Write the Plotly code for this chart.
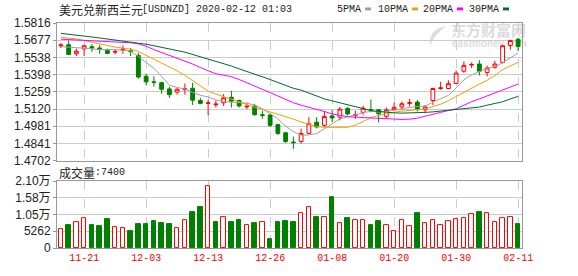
import plotly.graph_objects as go

# ---------------- data ----------------
dates = ["11-18","11-19","11-20","11-21","11-22","11-25","11-26","11-27","11-28","11-29",
         "12-02","12-03","12-04","12-05","12-06","12-09","12-10","12-11","12-12","12-13",
         "12-16","12-17","12-18","12-19","12-20","12-23","12-24","12-26","12-27","12-30",
         "12-31","01-02","01-03","01-06","01-07","01-08","01-09","01-10","01-13","01-14",
         "01-15","01-16","01-17","01-20","01-21","01-22","01-23","01-24","01-27","01-28",
         "01-29","01-30","01-31","02-03","02-04","02-05","02-06","02-07","02-10","02-11"]
tick_dates = ["11-21","12-03","12-13","12-26","01-08","01-20","01-30","02-11"]

opens = [1.5632,1.5640,1.5567,1.5606,1.5624,1.5614,1.5596,1.5580,1.5598,1.5591,
         1.5554,1.5385,1.5340,1.5333,1.5283,1.5257,1.5278,1.5288,1.5189,1.5166,
         1.5155,1.5171,1.5215,1.5189,1.5137,1.5145,1.5074,1.5072,1.4994,1.4928,
         1.4853,1.4858,1.4923,1.5014,1.4988,1.5064,1.5054,1.5124,1.5069,1.5093,
         1.5116,1.5114,1.5061,1.5114,1.5137,1.5166,1.5176,1.5114,1.5189,1.5286,
         1.5286,1.5327,1.5426,1.5476,1.5484,1.5416,1.5458,1.5497,1.5635,1.5684]
closes = [1.5638,1.5562,1.5588,1.5632,1.5614,1.5604,1.5570,1.5585,1.5604,1.5585,
          1.5379,1.5340,1.5335,1.5280,1.5236,1.5280,1.5283,1.5192,1.5166,1.5170,
          1.5160,1.5210,1.5184,1.5145,1.5142,1.5074,1.5069,1.4988,1.4923,1.4858,
          1.4848,1.4923,1.5001,1.4975,1.5059,1.5048,1.5119,1.5080,1.5074,1.5127,
          1.5111,1.5081,1.5114,1.5134,1.5163,1.5171,1.5119,1.5137,1.5286,1.5291,
          1.5325,1.5411,1.5473,1.5481,1.5426,1.5452,1.5484,1.5632,1.5674,1.5627]
highs = [1.5653,1.5674,1.5609,1.5640,1.5645,1.5640,1.5609,1.5598,1.5635,1.5614,
         1.5575,1.5406,1.5385,1.5340,1.5301,1.5288,1.5327,1.5333,1.5210,1.5192,
         1.5189,1.5241,1.5267,1.5197,1.5171,1.5163,1.5106,1.5080,1.5001,1.4936,
         1.4897,1.4962,1.5054,1.5054,1.5106,1.5114,1.5137,1.5137,1.5106,1.5145,
         1.5197,1.5119,1.5132,1.5171,1.5181,1.5202,1.5192,1.5150,1.5293,1.5340,
         1.5353,1.5432,1.5505,1.5497,1.5515,1.5471,1.5510,1.5640,1.5679,1.5697]
lows = [1.5614,1.5557,1.5549,1.5549,1.5583,1.5567,1.5567,1.5562,1.5567,1.5549,
        1.5366,1.5314,1.5301,1.5244,1.5210,1.5236,1.5236,1.5153,1.5158,1.5070,
        1.5132,1.5145,1.5132,1.5132,1.5119,1.5067,1.5041,1.4975,1.4910,1.4845,
        1.4798,1.4840,1.4918,1.4962,1.4975,1.5014,1.5028,1.5067,1.5041,1.5074,
        1.5093,1.5011,1.5041,1.5108,1.5114,1.5140,1.5100,1.5087,1.5153,1.5275,
        1.5280,1.5322,1.5413,1.5452,1.5392,1.5385,1.5445,1.5489,1.5601,1.5588]

ma5 = [1.5625,1.5622,1.5617,1.5612,1.5607,1.5600,1.5601,1.5601,1.5595,1.5590,
       1.5545,1.5499,1.5449,1.5384,1.5314,1.5294,1.5283,1.5254,1.5231,1.5218,
       1.5194,1.5180,1.5178,1.5174,1.5168,1.5151,1.5123,1.5084,1.5040,1.4983,
       1.4937,1.4908,1.4911,1.4921,1.4961,1.5001,1.5041,1.5056,1.5076,1.5090,
       1.5102,1.5095,1.5101,1.5113,1.5121,1.5133,1.5140,1.5145,1.5175,1.5201,
       1.5231,1.5290,1.5357,1.5396,1.5423,1.5449,1.5463,1.5495,1.5534,1.5574]
ma10 = [1.5700,1.5696,1.5687,1.5674,1.5660,1.5648,1.5636,1.5621,1.5613,1.5605,
        1.5585,1.5554,1.5523,1.5492,1.5460,1.5429,1.5392,1.5351,1.5304,1.5265,
        1.5241,1.5222,1.5198,1.5179,1.5155,1.5136,1.5116,1.5097,1.5073,1.5059,
        1.5038,1.5015,1.4995,1.4979,1.4972,1.4970,1.4970,1.4972,1.4990,1.5020,
        1.5049,1.5068,1.5082,1.5094,1.5103,1.5112,1.5115,1.5121,1.5138,1.5159,
        1.5188,1.5222,1.5258,1.5294,1.5322,1.5353,1.5391,1.5439,1.5470,1.5498]
ma20 = [1.5685,1.5682,1.5678,1.5675,1.5671,1.5669,1.5666,1.5664,1.5660,1.5656,
        1.5648,1.5628,1.5601,1.5578,1.5554,1.5531,1.5507,1.5484,1.5456,1.5429,
        1.5405,1.5394,1.5382,1.5359,1.5331,1.5304,1.5280,1.5253,1.5226,1.5198,
        1.5171,1.5151,1.5136,1.5120,1.5100,1.5081,1.5069,1.5058,1.5054,1.5050,
        1.5046,1.5042,1.5038,1.5036,1.5036,1.5038,1.5046,1.5062,1.5080,1.5093,
        1.5108,1.5122,1.5150,1.5180,1.5202,1.5226,1.5249,1.5277,1.5300,1.5322]
ma30 = [1.5732,1.5726,1.5718,1.5710,1.5703,1.5695,1.5687,1.5679,1.5671,1.5664,
        1.5656,1.5644,1.5632,1.5617,1.5605,1.5593,1.5580,1.5562,1.5546,1.5527,
        1.5507,1.5492,1.5468,1.5445,1.5425,1.5405,1.5382,1.5359,1.5335,1.5312,
        1.5288,1.5273,1.5249,1.5226,1.5202,1.5186,1.5171,1.5155,1.5140,1.5124,
        1.5108,1.5100,1.5093,1.5089,1.5087,1.5087,1.5089,1.5093,1.5097,1.5104,
        1.5108,1.5114,1.5120,1.5128,1.5136,1.5151,1.5163,1.5179,1.5202,1.5222]

volume = [6100,7320,8130,9460,7320,6810,9150,6710,6300,5190,
          7630,7630,8540,7930,7630,6410,8850,11290,12810,19520,
          8240,9760,8240,8850,7220,7930,8130,2750,8240,8540,
          8240,10880,12810,9760,9760,15860,7930,9460,8850,8850,
          7320,8540,7320,5190,8850,7020,10980,7930,8850,7320,
          8540,9150,9460,10680,11290,10980,8240,9460,9760,7400]
volume_dir = list("RGRRGGGRRG" "GGGGGRRGGR" "GRGGRGRGGG" "GRRGRGRGRR" "GGRRRRGRRR" "RRRRGRRRRG")

price_ticks = [1.4702,1.4841,1.4981,1.5120,1.5259,1.5398,1.5538,1.5677,1.5816]
price_labels = ["1.4702","1.4841","1.4981","1.5120","1.5259","1.5398","1.5538","1.5677","1.5816"]
vol_ticks = [0,5262,10524,15786,21048]
vol_labels = ["0","5262","1.05万","1.58万","2.10万"]

ma_names = ["5PMA","10PMA","20PMA","30PMA"]
ma_colors = ["#a0a0a0","#f0a000","#ff00ff","#006830"]

# ---------------- layout helpers ----------------
W, H = 578, 276
ML, MR, MT, MB = 57, 56, 23, 21
PW, PH = W - ML - MR, H - MT - MB
def px(x):
    return (x - ML) / PW
def py(y):
    return (H - MB - y) / PH

RED = "#ff0000"
GREEN = "#008000"

fig = go.Figure()
fig.add_trace(go.Candlestick(
    x=dates, open=opens, high=highs, low=lows, close=closes,
    increasing=dict(line=dict(color=RED, width=1), fillcolor="#ffffff"),
    decreasing=dict(line=dict(color=GREEN, width=1), fillcolor=GREEN),
    whiskerwidth=0, hoverinfo="skip", xaxis="x", yaxis="y"))
for vals, col in zip([ma5, ma10, ma20, ma30], ma_colors):
    fig.add_trace(go.Scatter(x=dates, y=vals, mode="lines",
                             line=dict(color=col, width=1), hoverinfo="skip",
                             xaxis="x", yaxis="y"))
fig.add_trace(go.Bar(
    x=dates, y=volume, width=0.55,
    marker=dict(color=["#ffffff" if d == "R" else GREEN for d in volume_dir],
                line=dict(color=[RED if d == "R" else GREEN for d in volume_dir], width=1)),
    hoverinfo="skip", xaxis="x2", yaxis="y2"))

axis_common = dict(showline=True, mirror=True, linecolor="#999999", linewidth=1,
                   zeroline=False, fixedrange=True)
tickfont = dict(family="Liberation Sans, Noto Sans CJK SC", size=12, color="#222222")

main_bottom = py(165)
vol_top = py(186)

fig.update_layout(
    width=W, height=H, margin=dict(l=ML, r=MR, t=MT, b=MB),
    paper_bgcolor="#ffffff", plot_bgcolor="#ffffff", showlegend=False,
    bargap=0,
    xaxis=dict(domain=[0, 1], anchor="y", type="category", range=[-0.5, len(dates) - 0.5],
               tickvals=tick_dates, showticklabels=False, ticks="",
               showgrid=True, gridcolor="#cccccc", griddash="dash", gridwidth=1,
               rangeslider=dict(visible=False), **axis_common),
    yaxis=dict(domain=[main_bottom, 1], anchor="x", range=[price_ticks[0], price_ticks[-1]],
               tickvals=price_ticks, ticktext=price_labels, tickfont=tickfont,
               ticks="outside", ticklen=3, tickcolor="#999999",
               showgrid=True, gridcolor="#cccccc", gridwidth=1, **axis_common),
    xaxis2=dict(domain=[0, 1], anchor="y2", type="category", range=[-0.5, len(dates) - 0.5],
                tickvals=tick_dates, ticktext=tick_dates, ticks="",
                tickfont=dict(family="Liberation Mono", size=10, color=RED),
                showgrid=True, gridcolor="#cccccc", griddash="dash", gridwidth=1,
                **axis_common),
    yaxis2=dict(domain=[0, vol_top], anchor="x2", range=[vol_ticks[0], vol_ticks[-1]],
                tickvals=vol_ticks, ticktext=vol_labels, tickfont=tickfont,
                ticks="outside", ticklen=3, tickcolor="#999999",
                showgrid=True, gridcolor="#cccccc", gridwidth=1, **axis_common),
)

annotations = []
shapes = []
# title
annotations.append(dict(x=px(57), y=py(9), xref="paper", yref="paper", xanchor="left", yanchor="middle",
                        text="美元兑新西兰元", showarrow=False,
                        font=dict(family="Noto Sans CJK SC", size=12, color="#222222")))
annotations.append(dict(x=px(140), y=py(9), xref="paper", yref="paper", xanchor="left", yanchor="middle",
                        text="[USDNZD] 2020-02-12 01:03", showarrow=False,
                        font=dict(family="Liberation Mono", size=10, color="#222222")))
# legend
leg_right = [363, 410, 455, 501]
for name, col, xr in zip(ma_names, ma_colors, leg_right):
    annotations.append(dict(x=px(xr), y=py(9), xref="paper", yref="paper", xanchor="right",
                            yanchor="middle", text=name, showarrow=False,
                            font=dict(family="Liberation Mono", size=10, color="#222222")))
    shapes.append(dict(type="rect", xref="paper", yref="paper", x0=px(xr + 2), x1=px(xr + 8),
                       y0=py(10), y1=py(7), line=dict(width=0), fillcolor=col))
# volume label
annotations.append(dict(x=px(57), y=py(177), xref="paper", yref="paper", xanchor="left", yanchor="middle",
                        text="成交量", showarrow=False,
                        font=dict(family="Noto Sans CJK SC", size=12, color="#222222")))
annotations.append(dict(x=px(93), y=py(177), xref="paper", yref="paper", xanchor="left", yanchor="middle",
                        text=":" + str(volume[-1]), showarrow=False,
                        font=dict(family="Liberation Mono", size=10, color="#222222")))
# watermark (below data)
shapes.append(dict(type="rect", xref="paper", yref="paper", x0=px(448), x1=px(530),
                   y0=py(39), y1=py(24), line=dict(width=0), fillcolor="rgba(0,0,0,0)", layer="below",
                   label=dict(text="<b>东方财富网</b>", font=dict(family="Noto Sans CJK SC", size=15, color="#dcdcdc"),
                              textposition="middle left", padding=0)))
shapes.append(dict(type="rect", xref="paper", yref="paper", x0=px(449), x1=px(530),
                   y0=py(48), y1=py(39), line=dict(width=0), fillcolor="rgba(0,0,0,0)", layer="below",
                   label=dict(text="<b>eastmoney.com</b>", font=dict(family="Liberation Sans", size=10, color="#dcdcdc"),
                              textposition="middle left", padding=0)))
shapes.append(dict(type="path", xref="paper", yref="paper", layer="below",
                   path="M %f %f Q %f %f %f %f Q %f %f %f %f Z" % (
                       px(446), py(26), px(428), py(30), px(430), py(46),
                       px(434), py(36), px(446), py(26)),
                   line=dict(width=0), fillcolor="#dcdcdc"))

fig.update_layout(annotations=annotations, shapes=shapes)
fig.write_html("out.html")
